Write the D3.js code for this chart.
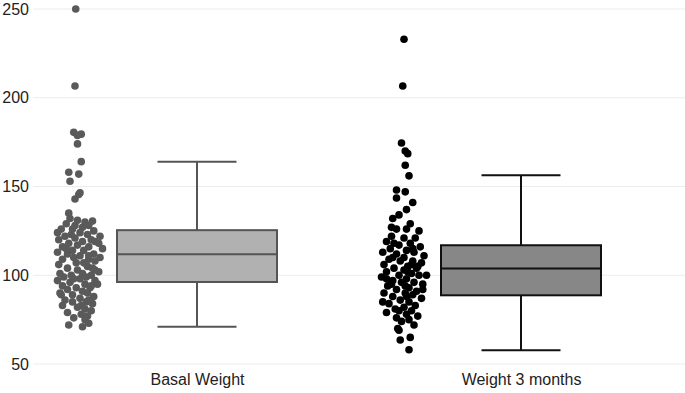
<!DOCTYPE html>
<html>
<head>
<meta charset="utf-8">
<script src="https://cdn.jsdelivr.net/npm/d3@7"></script>
<style>
  body { margin: 0; background: #fff; }
  text { font-family: "Liberation Sans", Arial, sans-serif; }
</style>
</head>
<body>
<div id="chart"></div>
<script>
// groups and box stats
var groups = ["Basal Weight", "Weight 3 months"];
var whiskerLow = [71, 57.7];
var q1 = [96.2, 88.7];
var median = [111.8, 103.8];
var q3 = [125.4, 116.9];
var whiskerHigh = [164, 156.3];
var yTicks = [50, 100, 150, 200, 250];

// jittered points: [value, jitter (-1..1)]
var basalPoints = [
  [250, -0.17], [206.6, -0.2], [180.5, -0.25], [179.5, 0.05], [178.8, -0.1], [174, -0.1],
  [164, 0.05], [158, -0.45], [157, -0.05], [153, -0.4], [146.5, 0.0], [145.5, -0.05],
  [143, -0.2], [135, -0.45], [130.5, 0.5],
  [132, -0.4], [131, -0.1], [130, 0.2], [129, -0.55], [128, 0.35], [127, 0.1], [126, -0.75],
  [126, -0.3], [125, 0.55], [124, -0.9], [124, 0.0], [123, 0.3], [122, -0.6], [122, 0.8],
  [121, -0.2], [120, 0.45], [120, -0.85], [119, 0.1], [118, -0.45], [118, 0.75], [117, -0.1],
  [116, 0.35], [116, -0.7], [115, 0.9], [114, -0.3], [114, 0.15], [113, -0.9], [112, 0.55],
  [112, -0.5], [111, 0.0], [110, 0.8], [110, -0.25], [109, -0.7], [109, 0.35], [108, 0.6],
  [107, -0.15], [106, -0.85], [105, 0.3], [104, 0.5], [104, -0.5], [103, -0.1], [102, 0.75],
  [101, -0.8], [101, 0.1], [100, -0.35], [100, 0.45], [99, -0.65], [99, 0.25], [98, 0.0],
  [97, -0.9], [97, 0.6], [96, -0.4], [95, 0.2], [95, 0.7], [94, -0.7], [93, -0.15], [93, 0.4],
  [92, -0.5], [91, 0.1], [90, -0.8], [90, 0.3], [89, -0.3], [88, 0.55], [87, 0.0], [86, -0.6],
  [85, -0.3], [85, 0.25], [84, 0.5], [83, -0.7], [82, -0.1], [81, 0.2], [80, 0.45], [79, -0.5],
  [78, 0.05], [77, 0.3], [76, -0.25], [75, 0.2], [73, 0.35], [72, -0.45], [71, 0.1],
  [128, -0.2], [123, -0.35], [119, 0.6], [115, -0.55], [111, 0.35], [107, 0.15], [103, 0.6],
  [98, -0.25], [94, 0.45], [89, -0.75], [86, 0.35], [83, 0.05]
];
var month3Points = [
  [233, 0.0], [206.6, -0.05], [174.5, -0.1], [170, 0.05], [168.5, 0.15], [162, 0.05],
  [156, 0.2], [148, -0.3], [147, 0.05], [143.5, -0.3], [141, 0.35], [137, 0.1], [134, -0.2],
  [132, -0.45], [129, 0.25], [127, -0.5],
  [126, -0.3], [126, 0.1], [125, 0.6], [122, -0.5], [121, 0.0], [121, 0.45], [119, -0.7],
  [118, 0.25], [117, -0.2], [116, 0.65], [115, -0.55], [114, 0.1], [113, -0.85], [113, 0.4],
  [112, -0.3], [111, 0.8], [110, 0.0], [109, -0.6], [108, 0.35], [108, -0.15], [107, 0.7],
  [106, -0.8], [105, 0.15], [104, -0.4], [104, 0.5], [103, 0.0], [102, -0.7], [101, 0.3],
  [100, -0.2], [100, 0.6], [99, -0.9], [98, 0.1], [97, -0.45], [96, 0.4], [96, -0.1],
  [95, 0.75], [94, -0.65], [93, 0.2], [92, -0.3], [91, 0.5], [90, -0.8], [90, 0.05], [89, 0.35],
  [88, -0.45], [87, 0.7], [86, -0.15], [85, 0.2], [84, -0.6], [83, 0.45], [82, 0.0], [81, -0.35],
  [80, 0.3], [79, -0.7], [78, 0.1], [77, 0.55], [76, -0.3], [75, 0.2], [74, -0.1], [72, 0.4],
  [70, -0.25], [69, -0.2], [65, 0.25], [63.5, -0.15], [58, 0.2],
  [110, -0.45], [105, 0.55], [95, -0.5], [100, 0.9], [115, 0.35], [85, -0.85], [92, 0.75],
  [118, -0.4], [106, 0.3], [98, -0.7], [88, 0.1], [80, -0.2], [102, 0.15], [94, 0.05]
];
var pointSets = [basalPoints, month3Points];

var svgWidth = 685;
var svgHeight = 393;

var svg = d3.select("#chart")
  .append("svg")
  .attr("width", svgWidth)
  .attr("height", svgHeight);

var yScale = d3.scaleLinear()
  .domain([50, 250])
  .range([364, 9]);

var xScale = d3.scalePoint()
  .domain(groups)
  .range([197, 521]);

var boxWidth = 160;
var capWidth = 79;
var jitterOffset = -117;
var jitterWidth = 25;

// gridlines
svg.append("g")
  .selectAll("line")
  .data(yTicks)
  .enter()
  .append("line")
  .attr("x1", 33)
  .attr("x2", svgWidth)
  .attr("y1", d => yScale(d))
  .attr("y2", d => yScale(d))
  .attr("stroke", "#ececec")
  .attr("stroke-width", 1);

// y axis labels
var leftAxis = d3.axisLeft(yScale).tickValues(yTicks).tickSize(0).tickPadding(0);
var yAxis = svg.append("g")
  .attr("transform", "translate(29,0)")
  .call(leftAxis);
yAxis.select(".domain").remove();
yAxis.selectAll("text")
  .attr("font-size", "16px")
  .attr("font-family", "Liberation Sans, Arial, sans-serif")
  .attr("fill", "#222");

// x axis labels
var bottomAxis = d3.axisBottom(xScale).tickSize(0).tickPadding(0);
var xAxis = svg.append("g")
  .attr("transform", "translate(0,374)")
  .call(bottomAxis);
xAxis.select(".domain").remove();
xAxis.selectAll("text")
  .attr("font-size", "16px")
  .attr("font-family", "Liberation Sans, Arial, sans-serif")
  .attr("fill", "#222");

var boxFill = ["#b1b1b1", "#878787"];
var boxStroke = ["#555555", "#111111"];
var pointFill = ["#5a5a5a", "#000000"];

groups.forEach((g, i) => {
  var cx = xScale(g);
  var grp = svg.append("g");

  // whisker stems
  grp.append("line")
    .attr("x1", cx).attr("x2", cx)
    .attr("y1", yScale(q3[i])).attr("y2", yScale(whiskerHigh[i]))
    .attr("stroke", boxStroke[i]).attr("stroke-width", 2);
  grp.append("line")
    .attr("x1", cx).attr("x2", cx)
    .attr("y1", yScale(q1[i])).attr("y2", yScale(whiskerLow[i]))
    .attr("stroke", boxStroke[i]).attr("stroke-width", 2);

  // caps
  [whiskerHigh[i], whiskerLow[i]].forEach(v => {
    grp.append("line")
      .attr("x1", cx - capWidth / 2).attr("x2", cx + capWidth / 2)
      .attr("y1", yScale(v)).attr("y2", yScale(v))
      .attr("stroke", boxStroke[i]).attr("stroke-width", 2);
  });

  // box
  grp.append("rect")
    .attr("x", cx - boxWidth / 2)
    .attr("width", boxWidth)
    .attr("y", yScale(q3[i]))
    .attr("height", yScale(q1[i]) - yScale(q3[i]))
    .attr("fill", boxFill[i])
    .attr("stroke", boxStroke[i])
    .attr("stroke-width", 2);

  // median
  grp.append("line")
    .attr("x1", cx - boxWidth / 2).attr("x2", cx + boxWidth / 2)
    .attr("y1", yScale(median[i])).attr("y2", yScale(median[i]))
    .attr("stroke", boxStroke[i]).attr("stroke-width", 2);

  // jittered points
  grp.selectAll("circle")
    .data(pointSets[i])
    .enter()
    .append("circle")
    .attr("cx", d => cx + jitterOffset + d[1] * jitterWidth)
    .attr("cy", d => yScale(d[0]))
    .attr("r", 3.8)
    .attr("fill", pointFill[i]);
});
</script>
</body>
</html>
